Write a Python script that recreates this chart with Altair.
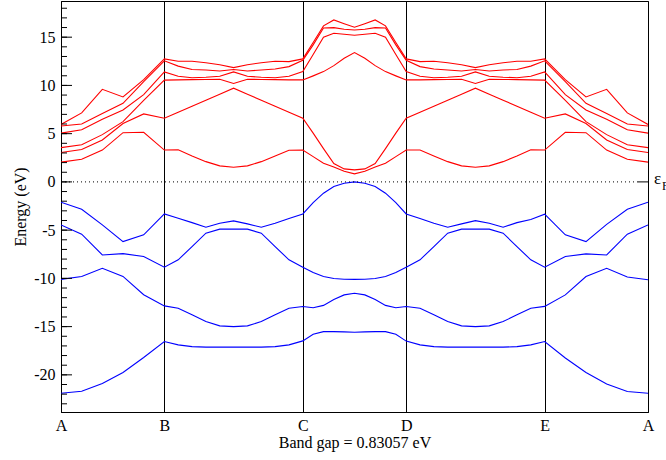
import altair as alt
import pandas as pd
import numpy as np

# High-symmetry points along the k-path
sym_labels = ["A", "B", "C", "D", "E", "A"]
sym_pos = [0.0, 1.0, 2.34, 3.34, 4.68, 5.68]
seg_intervals = [5, 10, 10, 10, 5]

# Valence bands (blue), 41 k-points
vb1 = [-21.9, -21.7, -20.9, -19.75, -18.2, -16.55,
       -16.89, -17.07, -17.13, -17.13, -17.13, -17.13, -17.13, -17.07, -16.89, -16.48,
       -15.8, -15.52, -15.52, -15.55, -15.58, -15.55, -15.52, -15.52, -15.8, -16.5,
       -16.89, -17.07, -17.13, -17.13, -17.13, -17.13, -17.13, -17.07, -16.89, -16.55,
       -18.25, -19.76, -20.95, -21.72, -21.9]
vb2 = [-10.1, -9.8, -8.95, -9.8, -11.7, -12.85,
       -13.09, -13.78, -14.48, -14.92, -15.0, -14.92, -14.48, -13.78, -13.09, -12.92,
       -13.05, -12.8, -12.2, -11.71, -11.55, -11.71, -12.2, -12.8, -13.05, -12.92,
       -13.09, -13.78, -14.48, -14.92, -15.0, -14.92, -14.48, -13.78, -13.09, -12.9,
       -11.71, -9.81, -8.95, -9.85, -10.15]
vb3 = [-4.46, -5.42, -7.57, -7.43, -7.74, -8.84,
       -8.08, -6.7, -5.32, -4.9, -4.9, -4.9, -5.32, -6.7, -8.08, -8.84,
       -9.4, -9.81, -10.02, -10.09, -10.1, -10.09, -10.02, -9.81, -9.4, -8.84,
       -8.08, -6.7, -5.32, -4.9, -4.9, -4.9, -5.32, -6.7, -8.08, -8.84,
       -7.74, -7.46, -7.57, -5.42, -4.46]
vb4 = [-2.1, -2.83, -4.46, -6.19, -5.49, -3.32,
       -3.77, -4.22, -4.7, -4.28, -4.04, -4.35, -4.7, -4.28, -3.8, -3.32,
       -2.15, -1.17, -0.48, -0.14, 0.0, -0.14, -0.48, -1.17, -2.15, -3.32,
       -3.8, -4.28, -4.7, -4.35, -4.02, -4.28, -4.7, -4.22, -3.9, -3.35,
       -5.49, -6.19, -4.4, -2.83, -2.1]

# Conduction bands (red)
cb1 = [2.05, 2.35, 3.3, 5.1, 5.15, 3.3,
       3.32, 2.69, 2.1, 1.66, 1.52, 1.66, 2.1, 2.69, 3.28, 3.3,
       2.62, 1.94, 1.55, 1.1, 0.83, 1.1, 1.55, 1.94, 2.62, 3.3,
       3.3, 2.69, 2.1, 1.66, 1.52, 1.66, 2.1, 2.69, 3.32, 3.3,
       5.15, 5.1, 3.3, 2.35, 2.05]
cb2 = [3.05, 3.35, 4.35, 6.05, 7.05, 6.6,
       7.22, 7.84, 8.47, 9.09, 9.71, 9.09, 8.47, 7.84, 7.22, 6.6,
       5.05, 3.45, 1.9, 1.35, 1.25, 1.35, 1.9, 3.45, 5.05, 6.6,
       7.22, 7.84, 8.47, 9.09, 9.71, 9.09, 8.47, 7.84, 7.22, 6.6,
       7.05, 6.05, 4.35, 3.35, 3.05]
cb3 = [3.55, 3.85, 4.9, 6.25, 8.45, 10.55,
       10.57, 10.6, 10.62, 10.64, 10.2, 10.64, 10.62, 10.6, 10.57, 10.57,
       10.99, 11.43, 12.05, 12.82, 13.4, 12.82, 12.05, 11.43, 10.99, 10.57,
       10.57, 10.6, 10.62, 10.64, 10.2, 10.64, 10.62, 10.6, 10.57, 10.55,
       8.45, 6.25, 4.9, 3.85, 3.55]
cb4 = [5.05, 5.4, 6.5, 7.45, 9.05, 11.4,
       10.95, 10.8, 10.85, 10.95, 11.4, 10.95, 10.85, 10.8, 10.95, 11.45,
       13.2, 15.0, 15.4, 15.3, 15.2, 15.3, 15.4, 15.0, 13.2, 11.45,
       10.95, 10.8, 10.85, 10.95, 11.4, 10.95, 10.85, 10.8, 10.95, 11.4,
       9.05, 7.45, 6.5, 5.4, 5.05]
cb5 = [5.8, 6.0, 7.1, 8.15, 10.4, 12.55,
       12.0, 11.65, 11.6, 11.5, 11.65, 11.5, 11.6, 11.7, 11.95, 12.6,
       14.2, 15.95, 15.99, 15.82, 15.75, 15.82, 15.99, 15.95, 14.2, 12.6,
       11.95, 11.7, 11.6, 11.5, 11.65, 11.5, 11.6, 11.65, 12.0, 12.55,
       10.4, 8.15, 7.1, 6.0, 5.8]
cb6 = [5.95, 7.15, 9.6, 8.8, 10.6, 12.75,
       12.5, 12.5, 12.35, 12.15, 11.85, 12.15, 12.35, 12.5, 12.47, 12.75,
       14.45, 16.17, 16.79, 16.4, 16.03, 16.4, 16.79, 16.17, 14.45, 12.75,
       12.47, 12.5, 12.35, 12.15, 11.85, 12.15, 12.35, 12.5, 12.5, 12.75,
       10.6, 8.8, 9.6, 7.15, 5.95]

y_labels = [-20, -15, -10, -5, 0, 5, 10, 15]
minor_ticks = list(range(-23, 19))

title_x = "Band gap = 0.83057 eV"
title_y = "Energy (eV)"

# k-path coordinate
k = []
for i, n in enumerate(seg_intervals):
    pts = np.linspace(sym_pos[i], sym_pos[i + 1], n + 1).tolist()
    k.extend(pts if i == 0 else pts[1:])

rows = []
for name, kind, vals in [("v1", "v", vb1), ("v2", "v", vb2), ("v3", "v", vb3), ("v4", "v", vb4),
                         ("c1", "c", cb1), ("c2", "c", cb2), ("c3", "c", cb3),
                         ("c4", "c", cb4), ("c5", "c", cb5), ("c6", "c", cb6)]:
    for kk, e in zip(k, vals):
        rows.append({"band": name, "kind": kind, "k": kk, "e": e})
df = pd.DataFrame(rows)

W, H = 587, 411
FONT = "Liberation Serif"
xscale = alt.Scale(domain=[sym_pos[0], sym_pos[-1]], nice=False, zero=False)
yscale = alt.Scale(domain=[-23.85, 18.75], nice=False, zero=False)

lab_expr = " : ".join(
    f"abs(datum.value - {p}) < 0.001 ? '{l}'" for p, l in zip(sym_pos, sym_labels)
) + " : ''"

yaxis = alt.Axis(
    values=y_labels, ticks=False, tickSize=0, grid=False, domainColor="black",
    labelExpr="datum.value < 0 ? '-' + abs(datum.value) : '' + datum.value",
    labelFont=FONT, labelFontSize=16, labelColor="black", labelPadding=6,
    title=title_y, titleFont=FONT, titleFontSize=16, titleFontWeight="normal",
    titleColor="black", titleAngle=-90, titleX=-41, titleY=H / 2,
    titleAlign="center", titleBaseline="middle")

lines = alt.Chart(df).mark_line(strokeWidth=1.1, clip=True).encode(
    x=alt.X("k:Q", scale=xscale, axis=alt.Axis(
        values=sym_pos, labelExpr=lab_expr, grid=True, gridColor="black", gridWidth=1,
        gridOpacity=1, ticks=False, tickSize=0, domain=True, domainColor="black",
        labelFont=FONT, labelFontSize=16, labelColor="black", labelPadding=5,
        labelFlush=False, labelOverlap=False, labelBound=False,
        title=title_x, titleFont=FONT, titleFontSize=16, titleFontWeight="normal",
        titleColor="black", titlePadding=1)),
    y=alt.Y("e:Q", scale=yscale, axis=yaxis),
    color=alt.Color("kind:N", scale=alt.Scale(domain=["c", "v"], range=["#ff0000", "#0000ff"]),
                    legend=None),
    detail="band:N",
)

minor = alt.Chart(pd.DataFrame({"e": minor_ticks})).mark_rule(color="black", strokeWidth=1).encode(
    y=alt.Y("e:Q", scale=yscale, axis=yaxis), x=alt.value(0), x2=alt.value(6))
major = alt.Chart(pd.DataFrame({"e": y_labels})).mark_rule(color="black", strokeWidth=1).encode(
    y=alt.Y("e:Q", scale=yscale, axis=yaxis), x=alt.value(0), x2=alt.value(11))

fermi_df = pd.DataFrame({"e": [0]})
fermi_dot = alt.Chart(fermi_df).mark_rule(color="black", strokeDash=[1, 3], strokeWidth=1).encode(
    y=alt.Y("e:Q", scale=yscale, axis=yaxis), x=alt.value(0), x2=alt.value(W - 11))
fermi_tick = alt.Chart(fermi_df).mark_rule(color="black", strokeWidth=1).encode(
    y=alt.Y("e:Q", scale=yscale, axis=yaxis), x=alt.value(W - 11), x2=alt.value(W))
eps = alt.Chart(fermi_df).mark_text(text="ε", font=FONT, fontSize=17, align="left",
                                    baseline="alphabetic", dy=2, color="black").encode(
    y=alt.Y("e:Q", scale=yscale, axis=yaxis), x=alt.value(W + 6))
eps_sub = alt.Chart(fermi_df).mark_text(text="F", font=FONT, fontSize=12, align="left",
                                        baseline="alphabetic", dy=8, color="black").encode(
    y=alt.Y("e:Q", scale=yscale, axis=yaxis), x=alt.value(W + 14))

chart = alt.layer(lines, fermi_dot, fermi_tick, minor, major, eps, eps_sub).properties(
    width=W, height=H, autosize="none",
    padding={"left": 61, "top": 1, "right": 18, "bottom": 48},
    background="white",
).configure_view(stroke="black", strokeWidth=1)

chart.save("out.html", embed_options={"renderer": "svg", "actions": False})
